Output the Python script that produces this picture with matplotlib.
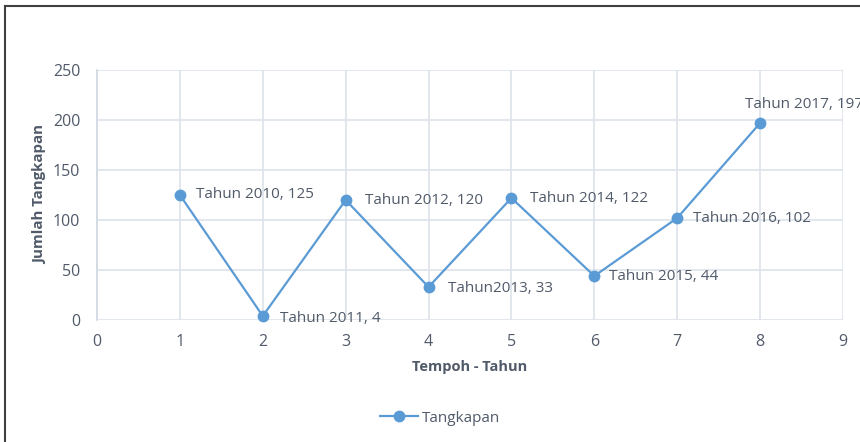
import matplotlib.pyplot as plt
from matplotlib.lines import Line2D

# Data
tempoh = [1, 2, 3, 4, 5, 6, 7, 8]
tangkapan = [125, 4, 120, 33, 122, 44, 102, 197]
label_teks = ["Tahun 2010, 125", "Tahun 2011, 4", "Tahun 2012, 120", "Tahun2013, 33",
              "Tahun 2014, 122", "Tahun 2015, 44", "Tahun 2016, 102", "Tahun 2017, 197"]
x_ticks = list(range(0, 10))
y_ticks = [0, 50, 100, 150, 200, 250]

biru = '#5B9BD5'
teks = '#505A69'
grid_c = '#DDE3EB'

plt.rcParams['font.family'] = ['Open Sans', 'DejaVu Sans']

fig = plt.figure(figsize=(8.6, 4.42), dpi=100)
ax = fig.add_axes([97 / 860, 1 - 320 / 442, (843 - 97) / 860, 250 / 442])

ax.plot(tempoh, tangkapan, color=biru, linewidth=1.6, marker='o', markersize=7.5,
        zorder=3, clip_on=False)

# label data (offset dalam piksel); label 2017 terpotong di tepi seperti aslinya
offsets = [(16, 0), (17, -2), (19, 0), (19, -1), (19, -1), (15, 0), (16, 0), (-15, 19)]
for x, y, t, (dx, dy) in zip(tempoh, tangkapan, label_teks, offsets):
    ax.annotate(t, (x, y), xytext=(dx, dy), textcoords='offset pixels',
                ha='left', va='center', fontsize=11, color=teks, annotation_clip=False)

ax.set_xlim(0, 9)
ax.set_ylim(0, 250)
ax.set_xticks(x_ticks)
ax.set_yticks(y_ticks)
ax.grid(True, color=grid_c, linewidth=1.2)
ax.set_axisbelow(True)
for s in ['top', 'right', 'bottom']:
    ax.spines[s].set_visible(False)
ax.spines['left'].set_color('#D0D7E0')
ax.spines['left'].set_linewidth(1.2)
ax.tick_params(length=0, colors=teks, labelsize=11.5)
ax.tick_params(axis='x', pad=10)
ax.tick_params(axis='y', pad=12)

ax.set_xlabel("Tempoh - Tahun", fontsize=10.5, fontweight='bold', color=teks, labelpad=7)
ax.set_ylabel("Jumlah Tangkapan", fontsize=10.8, fontweight='bold', color=teks, labelpad=4)

# legenda
h = Line2D([], [], color=biru, linewidth=1.6, marker='o', markersize=7.5)
fig.legend([h], ["Tangkapan"], loc='center', bbox_to_anchor=(440 / 860, 1 - 418 / 442),
           frameon=False, fontsize=11, labelcolor=teks, handlelength=2.5, handletextpad=0.2)

# bingkai (hanya atas dan kiri terlihat)
fig.add_artist(Line2D([4.5 / 860, 4.5 / 860], [0, 1 - 6 / 442], color='#404040', linewidth=1.5))
fig.add_artist(Line2D([4.5 / 860, 1], [1 - 6 / 442, 1 - 6 / 442], color='#404040', linewidth=1.5))

fig.savefig('out.png', dpi=100)
